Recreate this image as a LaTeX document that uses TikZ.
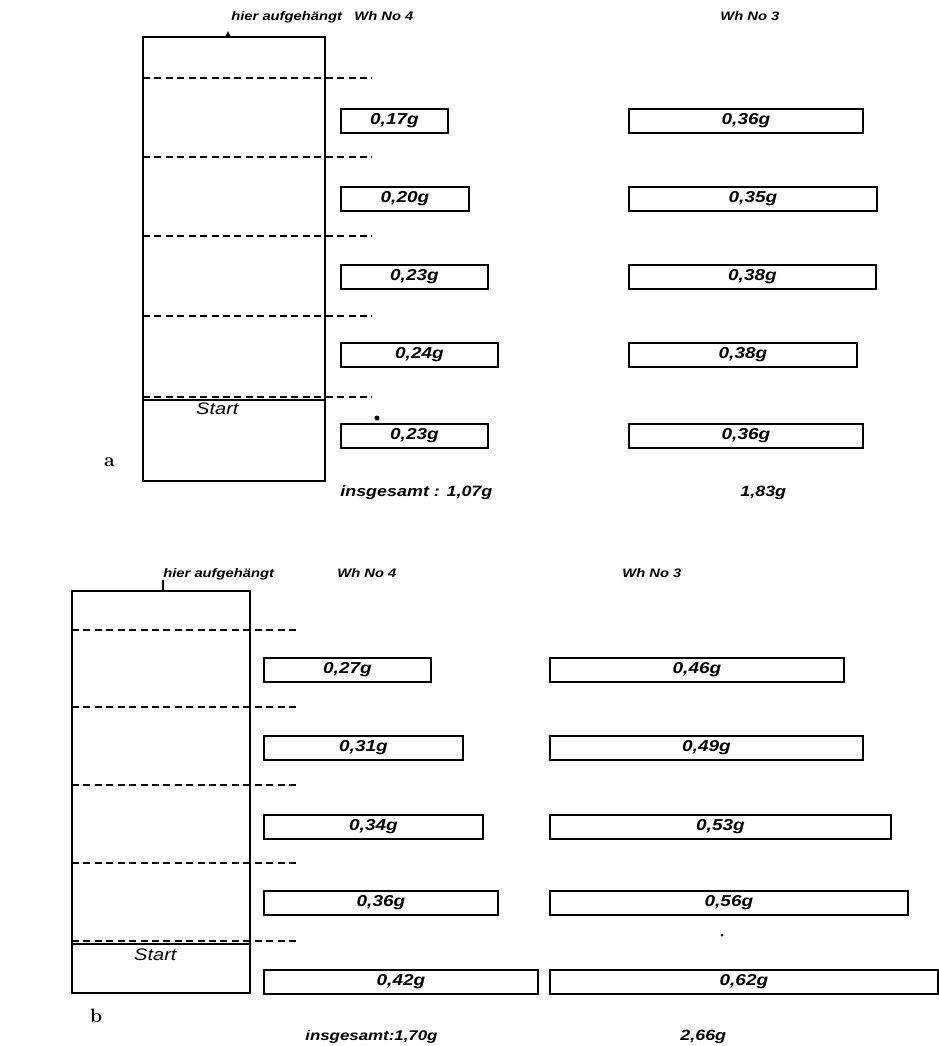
\documentclass[tikz,border=0pt]{standalone}
\usepackage{fontspec}
\newfontfamily\handfont[FakeStretch=1.2]{Liberation Sans}
\tikzset{
  gefaess/.style={line width=1.1pt},
  stufe/.style={line width=0.9pt, dash pattern=on 4pt off 2.5pt},
  wbox/.style={draw, line width=1.1pt, minimum height=0.48cm, inner sep=0pt,
    anchor=north west, font=\handfont\bfseries\itshape\fontsize{9}{10}\selectfont},
  kopf/.style={font=\handfont\bfseries\itshape\fontsize{7}{8}\selectfont, anchor=base west, inner sep=0pt},
  summe/.style={font=\handfont\bfseries\itshape\fontsize{8.5}{10}\selectfont, anchor=base west, inner sep=0pt},
  marke/.style={font=\bfseries\fontsize{11}{12}\selectfont}
}
\begin{document}
\begin{tikzpicture}[x=0.02cm, y=-0.02cm]
        \useasboundingbox (0,0) rectangle (939,1046);

        % --- Teil a: Gefaess mit Stufen ---
        \draw[gefaess] (143,37) rectangle (325,481);
        \coordinate (aHaken) at (228,37);
        \fill (aHaken) ++(-3,0) -- ++(3,-6) -- ++(3,6) -- cycle;
        \node[kopf] (aHier) at (231,20) {hier aufgehängt};
        \node[kopf] (aWh4) at (354,20) {Wh No 4};
        \node[kopf] (aWh3) at (720,20) {Wh No 3};

        \draw[stufe] (143,78) -- (372,78);
        \draw[stufe] (143,157) -- (372,157);
        \draw[stufe] (143,236) -- (372,236);
        \draw[stufe] (143,316) -- (372,316);
        \draw[stufe] (143,397) -- (372,397);
        \draw[gefaess] (143,400) -- (325,400);
        \node[font=\handfont\itshape\fontsize{9.5}{10}\selectfont, anchor=base west] (aStart) at (190,414) {Start};
        \node[marke, anchor=base west] (aMarke) at (98,466) {a};

        % --- Teil a: Wh No 4 ---
        \node[wbox, minimum width=2.14cm] (a4n1) at (340,108) {0,17g};
        \node[wbox, minimum width=2.56cm] (a4n2) at (340,186) {0,20g};
        \node[wbox, minimum width=2.94cm] (a4n3) at (340,264) {0,23g};
        \node[wbox, minimum width=3.14cm] (a4n4) at (340,342) {0,24g};
        \node[wbox, minimum width=2.94cm] (a4n5) at (340,423) {0,23g};
        \fill (377,418) circle (2.5);
        \node[summe] (a4Summe) at (340,496) {insgesamt : 1,07g};

        % --- Teil a: Wh No 3 ---
        \node[wbox, minimum width=4.68cm] (a3n1) at (628,108) {0,36g};
        \node[wbox, minimum width=4.96cm] (a3n2) at (628,186) {0,35g};
        \node[wbox, minimum width=4.94cm] (a3n3) at (628,264) {0,38g};
        \node[wbox, minimum width=4.56cm] (a3n4) at (628,342) {0,38g};
        \node[wbox, minimum width=4.68cm] (a3n5) at (628,423) {0,36g};
        \node[summe] (a3Summe) at (740,496) {1,83g};

        % --- Teil b: Gefaess mit Stufen ---
        \draw[gefaess] (72,591) rectangle (250,993);
        \coordinate (bHaken) at (163,591);
        \draw[line width=0.9pt] (bHaken) -- ++(0,-11);
        \node[kopf] (bHier) at (163,577) {hier aufgehängt};
        \node[kopf] (bWh4) at (337,577) {Wh No 4};
        \node[kopf] (bWh3) at (622,577) {Wh No 3};

        \draw[stufe] (72,630) -- (298,630);
        \draw[stufe] (72,707) -- (298,707);
        \draw[stufe] (72,785) -- (298,785);
        \draw[stufe] (72,863) -- (298,863);
        \draw[stufe] (72,941) -- (298,941);
        \draw[gefaess] (72,944) -- (250,944);
        \node[font=\handfont\itshape\fontsize{9.5}{10}\selectfont, anchor=base west] (bStart) at (128,960) {Start};
        \node[marke, anchor=base west] (bMarke) at (84,1022) {b};

        % --- Teil b: Wh No 4 ---
        \node[wbox, minimum width=3.34cm] (b4n1) at (263,657) {0,27g};
        \node[wbox, minimum width=3.98cm] (b4n2) at (263,735) {0,31g};
        \node[wbox, minimum width=4.38cm] (b4n3) at (263,814) {0,34g};
        \node[wbox, minimum width=4.68cm] (b4n4) at (263,890) {0,36g};
        \node[wbox, minimum width=5.48cm] (b4n5) at (263,969) {0,42g};
        \node[summe, font=\handfont\bfseries\itshape\fontsize{8}{10}\selectfont] (b4Summe) at (305,1040) {insgesamt:1,70g};

        % --- Teil b: Wh No 3 ---
        \node[wbox, minimum width=5.88cm] (b3n1) at (549,657) {0,46g};
        \node[wbox, minimum width=6.26cm] (b3n2) at (549,735) {0,49g};
        \node[wbox, minimum width=6.82cm] (b3n3) at (549,814) {0,53g};
        \node[wbox, minimum width=7.16cm] (b3n4) at (549,890) {0,56g};
        \node[wbox, minimum width=7.76cm] (b3n5) at (549,969) {0,62g};
        \fill (722,935) circle (1.5);
        \node[summe] (b3Summe) at (680,1040) {2,66g};
    \end{tikzpicture}
\end{document}
